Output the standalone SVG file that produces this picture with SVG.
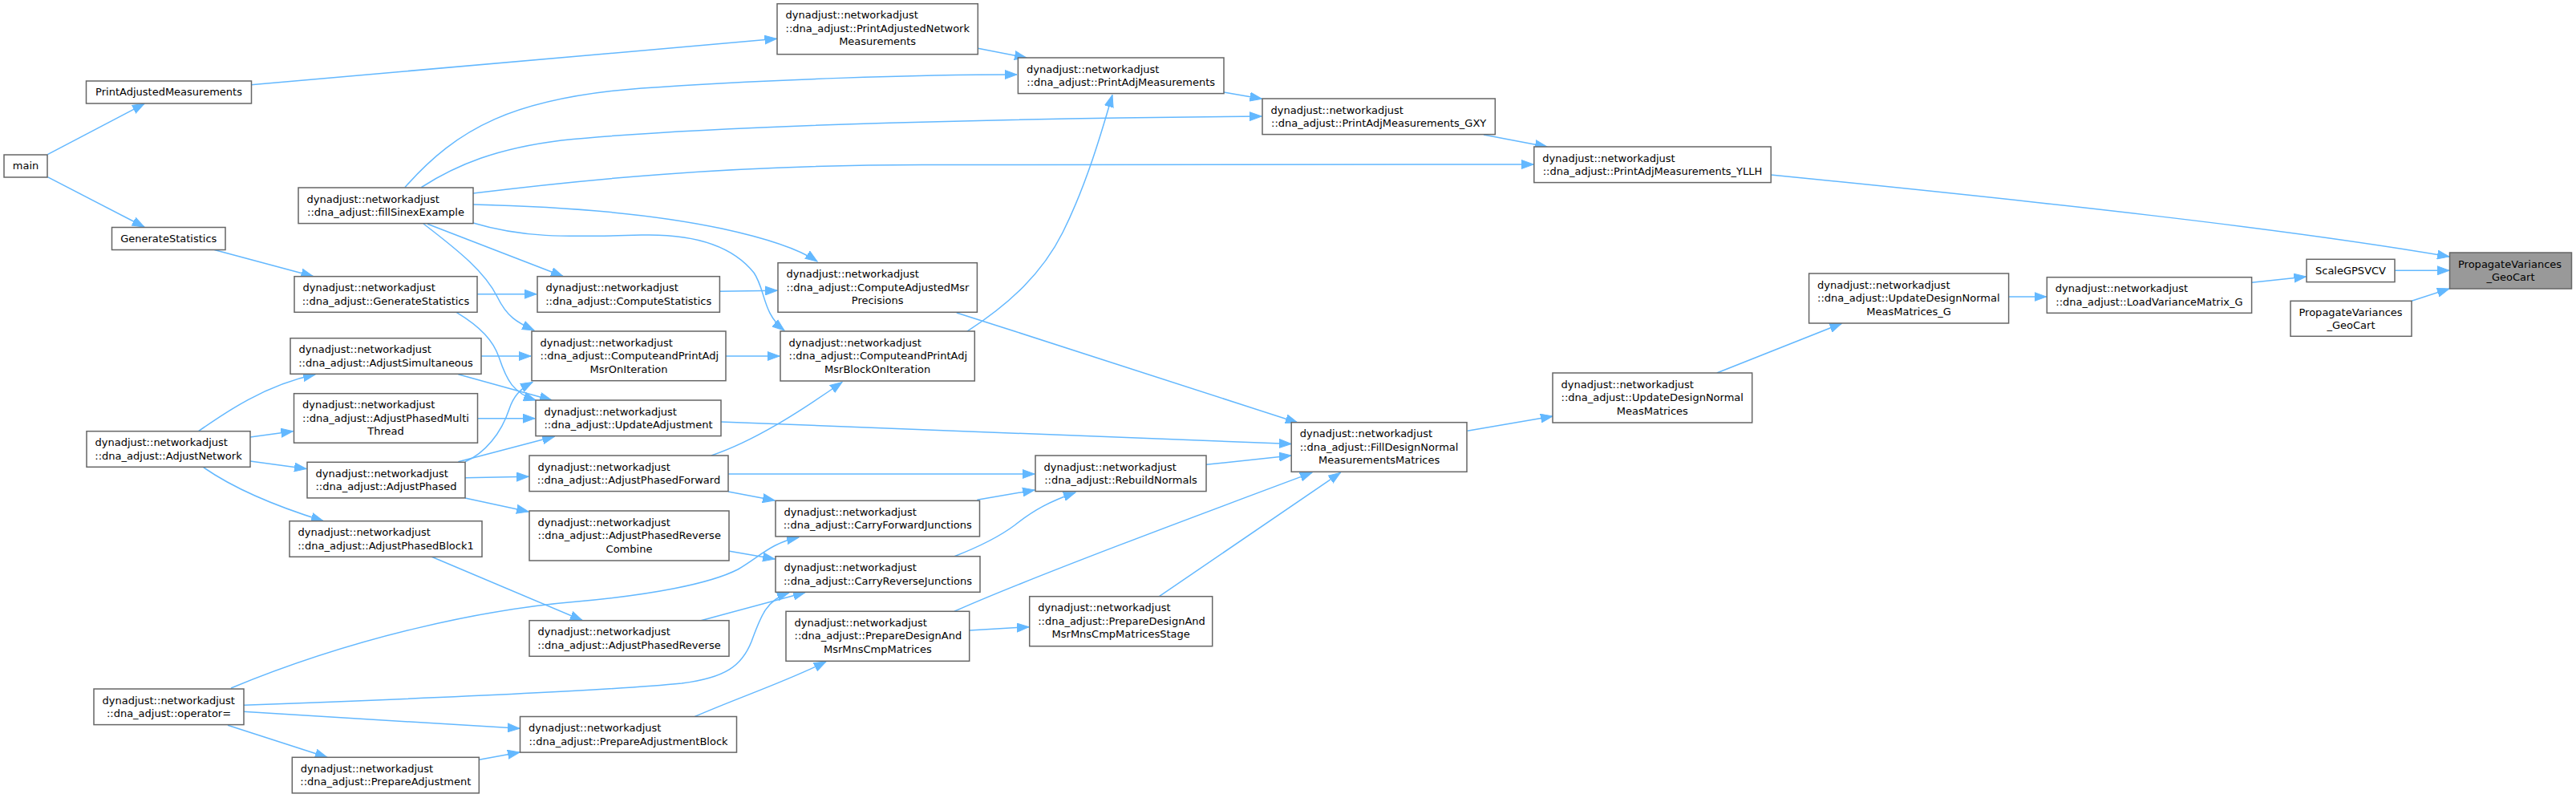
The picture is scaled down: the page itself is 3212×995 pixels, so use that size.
<svg xmlns="http://www.w3.org/2000/svg" width="3212" height="995" viewBox="0 0 3212 995">
<style>
.node rect{fill:#ffffff;stroke:#666666;stroke-width:1.5}
.node.target rect{fill:#999999}
.node text{font-family:"DejaVu Sans",Verdana,sans-serif;font-size:13px;fill:#000000}
.node text.c{text-anchor:middle}
.edges path{fill:none;stroke:#63b8ff;stroke-width:1.5;marker-end:url(#arrow)}
</style>
<defs>
<marker id="arrow" markerUnits="userSpaceOnUse" markerWidth="16" markerHeight="12" viewBox="0 0 16 12" refX="15" refY="6" orient="auto">
<path d="M0,0.5 L15,6 L0,11.5 z" fill="#63b8ff" stroke="#63b8ff" stroke-width="1"/>
</marker>
</defs>
<rect x="0" y="0" width="3212" height="995" fill="#ffffff"/>
<g id="edges" class="edges">
<path d="M59.3,192.7 L180,129.3"/>
<path d="M59.3,220.7 L180,283"/>
<path d="M313,105.7 L968.5,48.3"/>
<path d="M1219.4,60.3 L1280,72"/>
<path d="M1526,115 L1573.5,123.3"/>
<path d="M1850,168 L1929,183"/>
<path d="M2208,218 C2550,252 2850,285 3054,320"/>
<path d="M505,233.5 C570,160 640,122 800,110 C950,99 1150,93 1268,93"/>
<path d="M525.5,233.5 C570,205 620,185 700,175 C900,155 1300,147 1573,145"/>
<path d="M590,241 C720,225 900,206 1150,205.5 L1912,205"/>
<path d="M590,255 C720,258 820,268 900,285 C960,298 1000,313 1019,326"/>
<path d="M590,278 C650,296 700,296 800,293 C880,291 920,315 940,340 C955,362 950,390 978,412"/>
<path d="M533,279.3 L702,344.5"/>
<path d="M528,279 C575,315 605,340 620,370 C632,395 645,402 666,412"/>
<path d="M267.3,311.5 L390.5,344.5"/>
<path d="M595,366.7 L669,366.7"/>
<path d="M569,389.3 C600,408 615,425 622,445 C632,475 640,490 668,499"/>
<path d="M600,444 L662,444"/>
<path d="M571.4,466.7 L688,499"/>
<path d="M247,538 C280,515 330,480 393,467"/>
<path d="M312,545 L365.3,537.7"/>
<path d="M312,575 L382,584.5"/>
<path d="M253.6,582.7 C290,608 340,630 403,649.5"/>
<path d="M595.4,521.7 L667,521.7"/>
<path d="M571.4,575.7 L691.3,544.3"/>
<path d="M580,575.7 C605,565 625,540 635,510 C640,495 648,485 664,476.5"/>
<path d="M580,595.7 L659,594.3"/>
<path d="M580,621 L659,638"/>
<path d="M538.3,694.3 L726,773.5"/>
<path d="M284,904.3 L408,944.3"/>
<path d="M303.6,887.3 L648,908.3"/>
<path d="M597.4,947.3 L648,938"/>
<path d="M288,858 C440,795 600,760 720,750 C810,742 885,728 920,710 C950,692 962,677 996,670"/>
<path d="M303.6,879.3 C500,872 750,862 850,852 C905,845 925,830 937,800 C948,770 955,748 984,739"/>
<path d="M874,773.7 L1004,738.7"/>
<path d="M909.7,687.3 L966,697"/>
<path d="M908,591 L1290,591"/>
<path d="M908,613 L966,624"/>
<path d="M887,568 C940,550 995,515 1050,476.5"/>
<path d="M1218.4,623.3 L1290,611"/>
<path d="M1190,693.7 C1220,682 1245,670 1265,655 C1290,635 1310,625 1341,614"/>
<path d="M1504,579.3 L1610,568"/>
<path d="M899,526 L1610,553.5"/>
<path d="M1192.8,390 C1350,440 1520,495 1618,527"/>
<path d="M1190,762.3 C1280,722 1500,640 1636,589.3"/>
<path d="M1445.4,743.7 L1671.4,589.3"/>
<path d="M1208.7,786 L1283,781.7"/>
<path d="M866.3,893.5 C920,870 980,850 1030,825"/>
<path d="M897.4,363.3 L969,362.3"/>
<path d="M905,444 L972,444"/>
<path d="M1205.6,413.3 C1260,378 1300,340 1325,290 C1355,230 1375,160 1387,118.5"/>
<path d="M1829.6,537.3 L1936,519"/>
<path d="M2140.8,465 L2296.4,403.3"/>
<path d="M2504.6,370 L2551.5,370"/>
<path d="M2807.6,352.3 L2875.5,345"/>
<path d="M2986.2,337.3 L3054,337.3"/>
<path d="M3007,375.3 L3054,360"/>
</g>
<g id="main" class="node"><rect x="5" y="193" width="54" height="28"/><text class="c" x="32" y="211.4">main</text></g>
<g id="PrintAdjustedMeasurements" class="node"><rect x="107.5" y="101" width="206" height="28"/><text class="c" x="210.5" y="119.4">PrintAdjustedMeasurements</text></g>
<g id="GenerateStatistics" class="node"><rect x="139.5" y="283.5" width="141.5" height="28"/><text class="c" x="210.25" y="301.9">GenerateStatistics</text></g>
<g id="fillSinexExample" class="node"><rect x="372" y="234" width="218" height="44.6"/><text x="382.5" y="252.5">dynadjust::networkadjust</text><text class="c" x="481" y="269.1">::dna_adjust::fillSinexExample</text></g>
<g id="dna_GenerateStatistics" class="node"><rect x="367" y="344.7" width="228" height="44.6"/><text x="377.5" y="363.2">dynadjust::networkadjust</text><text class="c" x="481" y="379.8">::dna_adjust::GenerateStatistics</text></g>
<g id="AdjustSimultaneous" class="node"><rect x="362" y="421.7" width="238" height="44.6"/><text x="372.5" y="440.2">dynadjust::networkadjust</text><text class="c" x="481" y="456.8">::dna_adjust::AdjustSimultaneous</text></g>
<g id="AdjustPhasedMultiThread" class="node"><rect x="366.5" y="490.7" width="229" height="61.5"/><text x="377" y="509.2">dynadjust::networkadjust</text><text x="377" y="525.8">::dna_adjust::AdjustPhasedMulti</text><text class="c" x="481" y="542.4">Thread</text></g>
<g id="AdjustNetwork" class="node"><rect x="108" y="537.7" width="204" height="44.6"/><text x="118.5" y="556.2">dynadjust::networkadjust</text><text class="c" x="210" y="572.8">::dna_adjust::AdjustNetwork</text></g>
<g id="AdjustPhased" class="node"><rect x="383" y="576.3" width="197" height="44.6"/><text x="393.5" y="594.8">dynadjust::networkadjust</text><text class="c" x="481.5" y="611.4">::dna_adjust::AdjustPhased</text></g>
<g id="AdjustPhasedBlock1" class="node"><rect x="361" y="649.7" width="240" height="44.6"/><text x="371.5" y="668.2">dynadjust::networkadjust</text><text class="c" x="481" y="684.8">::dna_adjust::AdjustPhasedBlock1</text></g>
<g id="operator_eq" class="node"><rect x="117" y="859" width="187" height="44.6"/><text x="127.5" y="877.5">dynadjust::networkadjust</text><text class="c" x="210.5" y="894.1">::dna_adjust::operator=</text></g>
<g id="PrepareAdjustment" class="node"><rect x="364.3" y="944.3" width="233" height="44.6"/><text x="374.8" y="962.8">dynadjust::networkadjust</text><text class="c" x="480.8" y="979.4">::dna_adjust::PrepareAdjustment</text></g>
<g id="ComputeStatistics" class="node"><rect x="670" y="344.7" width="227.4" height="44.6"/><text x="680.5" y="363.2">dynadjust::networkadjust</text><text class="c" x="783.7" y="379.8">::dna_adjust::ComputeStatistics</text></g>
<g id="ComputeandPrintAdjMsrOnIteration" class="node"><rect x="663" y="413" width="242" height="61.7"/><text x="673.5" y="431.5">dynadjust::networkadjust</text><text x="673.5" y="448.1">::dna_adjust::ComputeandPrintAdj</text><text class="c" x="784" y="464.7">MsrOnIteration</text></g>
<g id="UpdateAdjustment" class="node"><rect x="668" y="499" width="231" height="44.6"/><text x="678.5" y="517.5">dynadjust::networkadjust</text><text class="c" x="783.5" y="534.1">::dna_adjust::UpdateAdjustment</text></g>
<g id="AdjustPhasedForward" class="node"><rect x="660" y="568" width="248" height="44.6"/><text x="670.5" y="586.5">dynadjust::networkadjust</text><text class="c" x="784" y="603.1">::dna_adjust::AdjustPhasedForward</text></g>
<g id="AdjustPhasedReverseCombine" class="node"><rect x="660" y="637" width="249" height="62"/><text x="670.5" y="655.5">dynadjust::networkadjust</text><text x="670.5" y="672.1">::dna_adjust::AdjustPhasedReverse</text><text class="c" x="784.5" y="688.7">Combine</text></g>
<g id="AdjustPhasedReverse" class="node"><rect x="660" y="773.7" width="249" height="44.6"/><text x="670.5" y="792.2">dynadjust::networkadjust</text><text class="c" x="784.5" y="808.8">::dna_adjust::AdjustPhasedReverse</text></g>
<g id="PrepareAdjustmentBlock" class="node"><rect x="648.5" y="893.5" width="270" height="44.6"/><text x="659" y="912">dynadjust::networkadjust</text><text class="c" x="783.5" y="928.6">::dna_adjust::PrepareAdjustmentBlock</text></g>
<g id="PrintAdjustedNetworkMeasurements" class="node"><rect x="969" y="4.7" width="250.3" height="63"/><text x="979.5" y="23.2">dynadjust::networkadjust</text><text x="979.5" y="39.8">::dna_adjust::PrintAdjustedNetwork</text><text class="c" x="1094.15" y="56.4">Measurements</text></g>
<g id="PrintAdjMeasurements" class="node"><rect x="1269.4" y="72" width="256.6" height="44.6"/><text x="1280" y="90.5">dynadjust::networkadjust</text><text class="c" x="1397.7" y="107.1">::dna_adjust::PrintAdjMeasurements</text></g>
<g id="ComputeAdjustedMsrPrecisions" class="node"><rect x="970" y="327.7" width="248.4" height="61.6"/><text x="980.5" y="346.2">dynadjust::networkadjust</text><text x="980.5" y="362.8">::dna_adjust::ComputeAdjustedMsr</text><text class="c" x="1094.2" y="379.4">Precisions</text></g>
<g id="ComputeandPrintAdjMsrBlockOnIteration" class="node"><rect x="973" y="413" width="242.3" height="62"/><text x="983.5" y="431.5">dynadjust::networkadjust</text><text x="983.5" y="448.1">::dna_adjust::ComputeandPrintAdj</text><text class="c" x="1094.15" y="464.7">MsrBlockOnIteration</text></g>
<g id="RebuildNormals" class="node"><rect x="1291" y="568" width="213" height="44.6"/><text x="1301.5" y="586.5">dynadjust::networkadjust</text><text class="c" x="1397.5" y="603.1">::dna_adjust::RebuildNormals</text></g>
<g id="CarryForwardJunctions" class="node"><rect x="967" y="624.3" width="254.5" height="44.6"/><text x="977.5" y="642.8">dynadjust::networkadjust</text><text class="c" x="1094.25" y="659.4">::dna_adjust::CarryForwardJunctions</text></g>
<g id="CarryReverseJunctions" class="node"><rect x="967" y="693.7" width="255" height="44.6"/><text x="977.5" y="712.2">dynadjust::networkadjust</text><text class="c" x="1094.5" y="728.8">::dna_adjust::CarryReverseJunctions</text></g>
<g id="PrepareDesignAndMsrMnsCmpMatrices" class="node"><rect x="980" y="762.3" width="228.7" height="62"/><text x="990.5" y="780.8">dynadjust::networkadjust</text><text x="990.5" y="797.4">::dna_adjust::PrepareDesignAnd</text><text class="c" x="1094.35" y="814">MsrMnsCmpMatrices</text></g>
<g id="PrepareDesignAndMsrMnsCmpMatricesStage" class="node"><rect x="1283.7" y="743.7" width="228" height="62"/><text x="1294.2" y="762.2">dynadjust::networkadjust</text><text x="1294.2" y="778.8">::dna_adjust::PrepareDesignAnd</text><text class="c" x="1397.7" y="795.4">MsrMnsCmpMatricesStage</text></g>
<g id="PrintAdjMeasurements_GXY" class="node"><rect x="1574" y="123" width="290.3" height="44.6"/><text x="1584.5" y="141.5">dynadjust::networkadjust</text><text class="c" x="1719.15" y="158.1">::dna_adjust::PrintAdjMeasurements_GXY</text></g>
<g id="PrintAdjMeasurements_YLLH" class="node"><rect x="1912.8" y="183" width="295.4" height="44.6"/><text x="1923.3" y="201.5">dynadjust::networkadjust</text><text class="c" x="2060.5" y="218.1">::dna_adjust::PrintAdjMeasurements_YLLH</text></g>
<g id="FillDesignNormalMeasurementsMatrices" class="node"><rect x="1610.2" y="526.7" width="218.8" height="61.6"/><text x="1620.7" y="545.2">dynadjust::networkadjust</text><text x="1620.7" y="561.8">::dna_adjust::FillDesignNormal</text><text class="c" x="1719.6" y="578.4">MeasurementsMatrices</text></g>
<g id="UpdateDesignNormalMeasMatrices" class="node"><rect x="1936" y="465" width="248.7" height="62"/><text x="1946.5" y="483.5">dynadjust::networkadjust</text><text x="1946.5" y="500.1">::dna_adjust::UpdateDesignNormal</text><text class="c" x="2060.35" y="516.7">MeasMatrices</text></g>
<g id="UpdateDesignNormalMeasMatrices_G" class="node"><rect x="2255.6" y="341" width="249" height="62"/><text x="2266.1" y="359.5">dynadjust::networkadjust</text><text x="2266.1" y="376.1">::dna_adjust::UpdateDesignNormal</text><text class="c" x="2380.1" y="392.7">MeasMatrices_G</text></g>
<g id="LoadVarianceMatrix_G" class="node"><rect x="2552.3" y="345.7" width="255.3" height="44.6"/><text x="2562.8" y="364.2">dynadjust::networkadjust</text><text class="c" x="2679.95" y="380.8">::dna_adjust::LoadVarianceMatrix_G</text></g>
<g id="ScaleGPSVCV" class="node"><rect x="2876" y="323.3" width="110" height="28.3"/><text class="c" x="2931" y="341.7">ScaleGPSVCV</text></g>
<g id="PropagateVariances_GeoCart_target" class="node target"><rect x="3054.5" y="315" width="152" height="45"/><text x="3065" y="333.5">PropagateVariances</text><text class="c" x="3130.5" y="350.1">_GeoCart</text></g>
<g id="PropagateVariances_GeoCart_other" class="node"><rect x="2856" y="375.3" width="151" height="44"/><text x="2866.5" y="393.8">PropagateVariances</text><text class="c" x="2931.5" y="410.4">_GeoCart</text></g>
</svg>
